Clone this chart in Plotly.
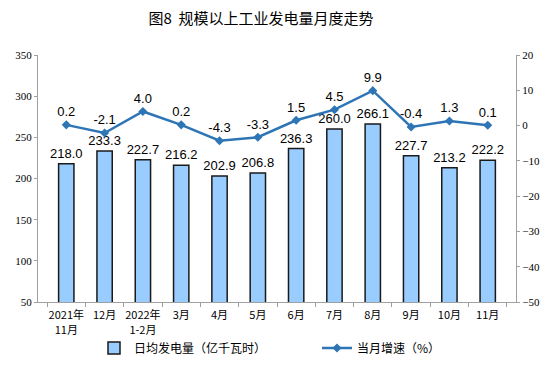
import plotly.graph_objects as go

categories = ["2021年<br>11月", "12月", "2022年<br>1-2月", "3月", "4月", "5月",
              "6月", "7月", "8月", "9月", "10月", "11月"]
daily_output = [218.0, 233.3, 222.7, 216.2, 202.9, 206.8, 236.3, 260.0, 266.1, 227.7, 213.2, 222.2]
growth = [0.2, -2.1, 4.0, 0.2, -4.3, -3.3, 1.5, 4.5, 9.9, -0.4, 1.3, 0.1]

label_font = dict(family="Liberation Sans, Arial, sans-serif", size=13, color="#000000")
tick_font = dict(family="Liberation Serif", size=11, color="#000000")
cjk_font = dict(family="Noto Sans CJK SC, sans-serif", size=11, color="#000000")
legend_font = dict(family="Noto Sans CJK SC, sans-serif", size=12, color="#000000")

# page body has an 8px default margin; figure is placed at (8, 8)
W, H = 546, 373
L, R, T, B = 30, 38, 47, 79
PW, PH = W - L - R, H - T - B


def px_x(vx):
    return (vx - 8 - L) / PW


def px_y(vy):
    return (H - B - (vy - 8)) / PH


fig = go.Figure()
fig.add_trace(go.Bar(
    x=categories, y=daily_output, name="日均发电量（亿千瓦时）",
    marker=dict(color="#99CCFF", line=dict(color="#1a1a1a", width=1.5)),
    width=0.4,
    text=[f"{v:.1f}" for v in daily_output], textposition="outside",
    textangle=0, constraintext="none",
    textfont=label_font, cliponaxis=False, legend="legend",
))
fig.add_trace(go.Scatter(
    x=categories, y=growth, name="当月增速（%）", yaxis="y2",
    mode="lines+markers+text",
    line=dict(color="#2E75B6", width=2.5),
    marker=dict(symbol="diamond", size=7, color="#2E75B6"),
    text=[f"{v:.1f}" for v in growth], textposition="top center",
    textfont=label_font, cliponaxis=False, legend="legend2",
))

fig.update_layout(
    width=W, height=H,
    margin=dict(l=L, r=R, t=T, b=B, autoexpand=False),
    paper_bgcolor="white", plot_bgcolor="white",
    title=dict(text="图8  规模以上工业发电量月度走势", x=(261 - 8) / W, xanchor="center",
               y=1 - 5 / H, yanchor="top",
               font=dict(family="Noto Sans CJK SC, sans-serif", size=15, color="#000000")),
    xaxis=dict(showline=True, linecolor="#A0A0A0", linewidth=1,
               ticks="outside", tickson="boundaries", ticklen=4, tickcolor="#A0A0A0",
               tickfont=cjk_font, showgrid=False, tickangle=0, automargin=False,
               ticklabelstandoff=3),
    yaxis=dict(range=[50, 350], dtick=50, showline=True, linecolor="#A0A0A0",
               ticks="outside", ticklen=3, tickcolor="#A0A0A0",
               tickfont=tick_font, showgrid=False, zeroline=False, automargin=False),
    yaxis2=dict(range=[-50, 20], dtick=10, overlaying="y", side="right",
                showline=True, linecolor="#A0A0A0",
                ticks="outside", ticklen=3, tickcolor="#A0A0A0",
                tickfont=tick_font, showgrid=False, zeroline=False, automargin=False),
    showlegend=True,
    legend=dict(x=px_x(94), xanchor="left", y=px_y(348), yanchor="middle",
                font=legend_font, bgcolor="rgba(0,0,0,0)"),
    legend2=dict(x=px_x(317), xanchor="left", y=px_y(348), yanchor="middle",
                 font=legend_font, bgcolor="rgba(0,0,0,0)"),
)

fig.write_html("out.html")
